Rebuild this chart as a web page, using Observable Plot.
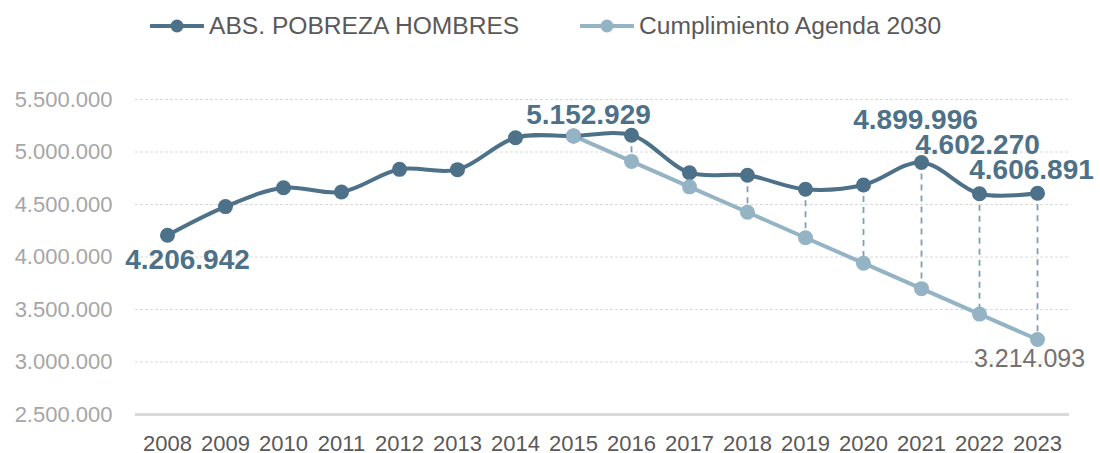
<!DOCTYPE html>
<html><head><meta charset="utf-8">
<script src="https://cdn.jsdelivr.net/npm/d3@7"></script>
<script src="https://cdn.jsdelivr.net/npm/@observablehq/plot@0.6"></script>
<style>
body{margin:0;background:#fff;font-family:"Liberation Sans",Arial,sans-serif;}
#legend{position:relative;width:1100px;height:52px;}
.item{position:absolute;top:0;height:52px;display:flex;align-items:center;font-size:24.6px;color:#595959;white-space:nowrap;}
.item svg{margin-right:5px;}
#chart svg{display:block;}
</style></head><body>
<div id="legend"></div>
<div id="chart"></div>
<script>
// ---- data ----
const years = [2008,2009,2010,2011,2012,2013,2014,2015,2016,2017,2018,2019,2020,2021,2022,2023];
const pobreza = [4206942,4480000,4660000,4619000,4835000,4832000,5136000,5152929,5160000,4803000,4778000,4645000,4686000,4899996,4602270,4606891];
const agendaYears = [2015,2016,2017,2018,2019,2020,2021,2022,2023];
const agenda = [5152929,4910575,4668220,4425866,4183511,3941157,3698802,3456448,3214093];
const yTicks = [2500000,3000000,3500000,4000000,4500000,5000000,5500000];
const seriesNames = ["ABS. POBREZA HOMBRES","Cumplimiento Agenda 2030"];
const labelledAgenda = [2023];

const dark = "#4d7189", light = "#94b3c5", dash = "#7e9fb4";
const fmt = d3.formatLocale({decimal:",", thousands:".", grouping:[3], currency:["",""]}).format(",d");

const main = years.map((y,i)=>({year:y, value:pobreza[i]}));
const meta = agendaYears.map((y,i)=>({year:y, value:agenda[i]}));
const links = agendaYears.slice(1).map((y,i)=>({year:y, hi:pobreza[years.indexOf(y)], lo:agenda[i+1]}));
const lab = y => main.find(d=>d.year===y);

// ---- legend ----
const legend = document.getElementById("legend");
const legPos = [150, 580];
seriesNames.forEach((name,i)=>{
  const c = i===0 ? dark : light;
  const div = document.createElement("div");
  div.className = "item";
  div.style.left = legPos[i] + "px";
  div.innerHTML = `<svg width="54" height="16"><line x1="1" y1="8" x2="53" y2="8" stroke="${c}" stroke-width="4" stroke-linecap="round"/><circle cx="27" cy="8" r="6.5" fill="${c}"/></svg><span>${name}</span>`;
  legend.appendChild(div);
});

// ---- chart ----
const chart = Plot.plot({
  width: 1100, height: 401,
  marginLeft: 135, marginRight: 31, marginTop: 47, marginBottom: 39,
  style: {fontFamily: "'Liberation Sans', Arial, sans-serif", background: "white", overflow: "visible"},
  x: {type: "point", domain: years, padding: 0.5, label: null},
  y: {domain: [2500000, 5500000], label: null},
  marks: [
    Plot.gridY(yTicks.slice(1), {stroke: "#d0d0d0", strokeOpacity: 1, strokeDasharray: "3,2", strokeWidth: 0.8}),
    Plot.ruleY([yTicks[0]], {stroke: "#d9d9d9", strokeWidth: 3}),
    Plot.axisY(yTicks, {tickSize: 0, tickPadding: 23, tickFormat: fmt, fontSize: 22, color: "#a6a6a6", label: null}),
    Plot.axisX({tickSize: 0, tickPadding: 21, tickFormat: d => String(d), fontSize: 22, color: "#595959", label: null}),
    Plot.link(links, {x1: "year", x2: "year", y1: "hi", y2: "lo", stroke: dash, strokeWidth: 1.8, strokeDasharray: "6,5"}),
    Plot.line(meta, {x: "year", y: "value", stroke: light, strokeWidth: 4}),
    Plot.line(main, {x: "year", y: "value", stroke: dark, strokeWidth: 4, curve: "catmull-rom"}),
    Plot.dot(main, {x: "year", y: "value", r: 7.5, fill: dark}),
    Plot.dot(meta, {x: "year", y: "value", r: 7.5, fill: light}),
    Plot.text([lab(2008)], {x: "year", y: "value", text: d => fmt(d.value), dx: 20, dy: 25, fill: dark, fontSize: 28, fontWeight: "bold"}),
    Plot.text([lab(2015)], {x: "year", y: "value", text: d => fmt(d.value), dx: 15, dy: -21, fill: dark, fontSize: 28, fontWeight: "bold"}),
    Plot.text([lab(2021)], {x: "year", y: "value", text: d => fmt(d.value), dx: -6, dy: -42, fill: dark, fontSize: 28, fontWeight: "bold"}),
    Plot.text([lab(2022)], {x: "year", y: "value", text: d => fmt(d.value), dx: -2, dy: -49, fill: dark, fontSize: 28, fontWeight: "bold"}),
    Plot.text([lab(2023)], {x: "year", y: "value", text: d => fmt(d.value), dx: -6, dy: -23, fill: dark, fontSize: 28, fontWeight: "bold"}),
    Plot.text(meta.filter(d => labelledAgenda.includes(d.year)), {x: "year", y: "value", text: d => fmt(d.value), dx: -8, dy: 19, fill: "#767171", fontSize: 25})
  ]
});
document.getElementById("chart").appendChild(chart);
</script>
</body></html>
